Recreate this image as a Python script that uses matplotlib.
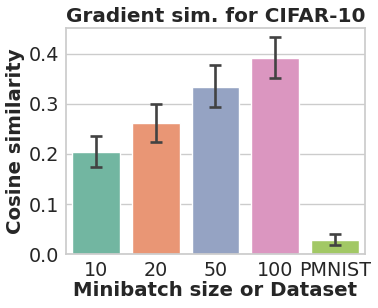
import matplotlib
matplotlib.use("Agg")
import matplotlib.pyplot as plt
import seaborn as sns
import numpy as np

categories = ["10", "20", "50", "100", "PMNIST"]
means = [0.203, 0.261, 0.334, 0.391, 0.028]
err_low = [0.174, 0.223, 0.294, 0.352, 0.019]
err_high = [0.235, 0.300, 0.378, 0.433, 0.040]

sns.set_theme(style="whitegrid")
plt.rcParams['font.family'] = ['DejaVu Sans']

colors = [sns.desaturate(c, 0.75) for c in sns.color_palette("Set2", 5)]

fig = plt.figure(figsize=(3.78, 3.08), dpi=100)
ax = fig.add_axes([0.175, 0.175, 0.79, 0.735])
x = np.arange(len(categories))
ax.bar(x, means, width=0.8, color=colors, edgecolor="white", linewidth=1)
lo = np.array(means) - np.array(err_low)
hi = np.array(err_high) - np.array(means)
ax.errorbar(x, means, yerr=[lo, hi], fmt="none", ecolor="#424242", elinewidth=1.9, capsize=4.5, capthick=1.9)
ax.set_xticks(x)
ax.set_xticklabels(categories)
ax.set_xlim(-0.5, 4.5)
ax.set_ylim(0, 0.452)
ax.set_yticks([0.0, 0.1, 0.2, 0.3, 0.4])
ax.tick_params(labelsize=13.8, length=0, pad=5)
ax.set_title("Gradient sim. for CIFAR-10", fontsize=14.4, fontweight="bold", pad=4)
ax.set_xlabel("Minibatch size or Dataset", fontsize=14.2, fontweight="bold", labelpad=1)
ax.set_ylabel("Cosine similarity", fontsize=14.2, fontweight="bold", labelpad=3)
ax.grid(axis="x", visible=False)
fig.savefig("out.png", dpi=100)
